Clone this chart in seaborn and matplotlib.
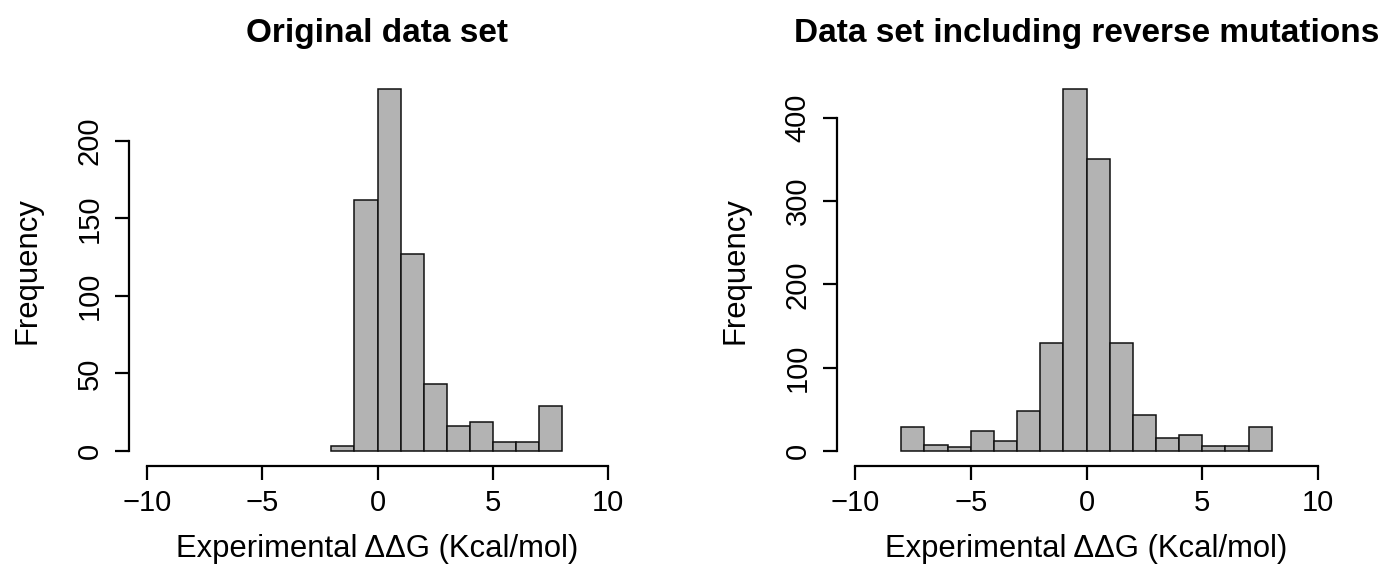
import numpy as np
import pandas as pd
import seaborn as sns
import matplotlib.pyplot as plt

# --- Data (bin width 1) ---
orig_bin_left = [-2, -1, 0, 1, 2, 3, 4, 5, 6, 7]
orig_counts = [3, 162, 233, 127, 43, 16, 19, 6, 6, 29]

rev_bin_left = [-8, -7, -6, -5, -4, -3, -2, -1, 0, 1, 2, 3, 4, 5, 6, 7]
rev_counts = [29, 7, 5, 24, 12, 48, 130, 434, 350, 130, 43, 16, 19, 6, 6, 29]

titles = ["Original data set", "Data set including reverse mutations"]
x_label = "Experimental \u0394\u0394G (Kcal/mol)"
x_ticks = [-10, -5, 0, 5, 10]
y_ticks_orig = [0, 50, 100, 150, 200]
y_ticks_rev = [0, 100, 200, 300, 400]

sns.set_style("ticks")
plt.rcParams['font.family'] = ['Liberation Sans', 'DejaVu Sans']
plt.rcParams['text.color'] = 'black'
plt.rcParams['axes.labelcolor'] = 'black'
plt.rcParams['xtick.color'] = 'black'
plt.rcParams['ytick.color'] = 'black'

W, H = 1379, 566
fig = plt.figure(figsize=(W / 100, H / 100), dpi=100)

# axes placed to mimic R's plot regions (pixels: left, top, right, bottom)
regions = [(128.6, 75, 626.4, 465.5), (836.5, 75, 1336.5, 465.5)]


def draw_hist(region, bin_left, counts, title, y_ticks):
    l, t, r, b = region
    ax = fig.add_axes([l / W, 1 - b / H, (r - l) / W, (b - t) / H])
    df = pd.DataFrame({"x": np.array(bin_left) + 0.5, "n": counts})
    edges = list(bin_left) + [bin_left[-1] + 1]
    sns.histplot(data=df, x="x", weights="n", bins=edges, ax=ax,
                 color="#B3B3B3", edgecolor="#111111", linewidth=1.1, alpha=1)

    ymax = max(counts)
    ax.set_xlim(-10.8, 10.8)
    ax.set_ylim(-0.04 * ymax, 1.04 * ymax)

    # R-style detached axes
    for side in ["top", "right"]:
        ax.spines[side].set_visible(False)
    ax.spines["bottom"].set_bounds(x_ticks[0], x_ticks[-1])
    ax.spines["left"].set_bounds(y_ticks[0], y_ticks[-1])
    for side in ["bottom", "left"]:
        ax.spines[side].set_linewidth(1.6)
        ax.spines[side].set_color("black")

    ax.set_xticks(x_ticks)
    ax.set_xticklabels([str(v).replace("-", "\u2212") for v in x_ticks])
    ax.set_yticks(y_ticks)
    ax.set_yticklabels([str(v) for v in y_ticks], rotation=90, va="center")
    ax.tick_params(axis="both", length=10, width=1.6, labelsize=21)
    ax.tick_params(axis="x", pad=7)
    ax.tick_params(axis="y", pad=8)

    ax.set_xlabel(x_label, fontsize=22.3, labelpad=12)
    ax.set_ylabel("Frequency", fontsize=22.3, labelpad=24)
    ax.set_title(title, fontsize=24, fontweight="bold", pad=24)
    return ax


draw_hist(regions[0], orig_bin_left, orig_counts, titles[0], y_ticks_orig)
draw_hist(regions[1], rev_bin_left, rev_counts, titles[1], y_ticks_rev)

plt.savefig("out.png", dpi=100)
plt.close()
